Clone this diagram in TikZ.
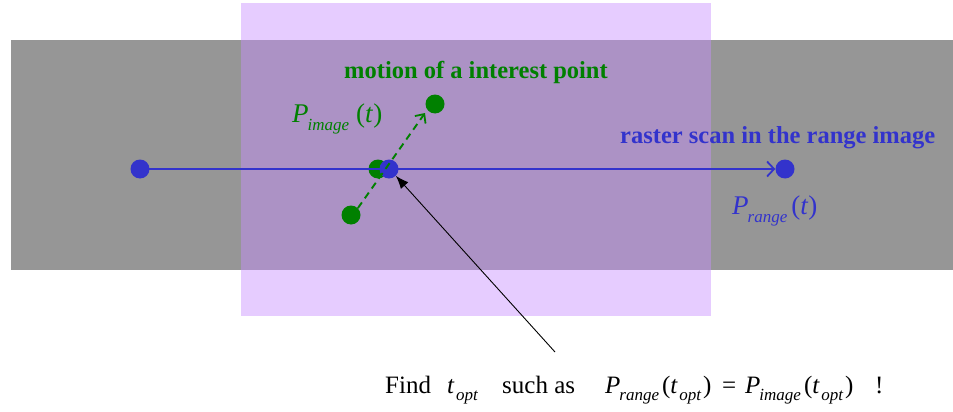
\documentclass[tikz,border=0pt]{standalone}
\usepackage{fontspec}
\setmainfont{Liberation Serif}
\usetikzlibrary{arrows.meta}
\definecolor{greybg}{RGB}{150,150,150}
\definecolor{lav}{RGB}{200,142,255}
\definecolor{dblue}{RGB}{51,51,204}
\definecolor{dgreen}{RGB}{0,128,0}
\newcommand{\subsz}[1]{\raisebox{-0.3em}{\fontsize{17}{17}\selectfont\itshape #1}}
\newcommand{\Pv}[1]{\textit{P}\kern-1pt\subsz{#1}}
\newcommand{\topt}{\textit{t}\kern1.5pt\subsz{opt}}
\begin{document}
\begin{tikzpicture}[x=1pt,y=-1pt,
  dot/.style={circle,inner sep=0pt,minimum size=19pt},
  bdot/.style={dot,fill=dblue},
  gdot/.style={dot,fill=dgreen},
  lbl/.style={inner sep=0pt,anchor=base west},
  big/.style={font=\fontsize{24.5}{24.5}\selectfont\bfseries},
  mth/.style={font=\fontsize{25}{25}\selectfont}]
\useasboundingbox (0,0) rectangle (953,412);
\fill[greybg] (11,40) rectangle (953,270);
\fill[lav,opacity=0.45] (241,3) rectangle (711,316);
% dots
\node[bdot] (b1) at (140,169) {};
\node[bdot] (b2) at (785,169) {};
\node[gdot] (gm) at (378,169) {};
\node[bdot] (bm) at (389,169) {};
\node[gdot] (g1) at (351,215) {};
\node[gdot] (g2) at (435,104) {};
% blue raster line
\draw[dblue,line width=2.2pt,-{Straight Barb[length=7pt,width=15pt,line width=1.8pt]}] (b1.center) -- (b2.west);
% green dashed motion
\draw[dgreen,line width=1.9pt,dash pattern=on 7pt off 5pt,-{Straight Barb[length=7pt,width=13pt,line width=1.8pt]}] (g1.north east) -- (425,113);
% black pointer
\coordinate (ps) at (555,352);
\draw[black,line width=0.9pt,-{Latex[length=13pt,width=10pt]}] (ps) -- (bm.south east);
% texts
\node[lbl,text=dgreen,big] (mt) at (344,78) {motion of a interest point};
\node[lbl,text=dblue,big] (rs) at (620,143) {raster scan in the range image};
\node[lbl,text=dgreen,font=\fontsize{27}{27}\selectfont] (pi) at (292,122) {\Pv{image}\kern7pt(\textit{t})};
\node[lbl,text=dblue,font=\fontsize{27}{27}\selectfont] (pr) at (732,214) {\Pv{range}\kern4pt(\textit{t})};
\node[lbl,mth] (f1) at (385,393) {Find};
\node[lbl,mth] (f2) at (447,393) {\topt};
\node[lbl,mth] (f3) at (502,393) {such as};
\node[lbl,mth] (f4) at (605,393) {\Pv{range}\kern3pt(\topt\kern2pt)};
\node[lbl,mth] (f5) at (722,393) {=};
\node[lbl,mth] (f6) at (745,393) {\Pv{image}\kern3pt(\topt\kern2pt)};
\node[lbl,mth] (f7) at (875,393) {!};
\end{tikzpicture}
\end{document}
